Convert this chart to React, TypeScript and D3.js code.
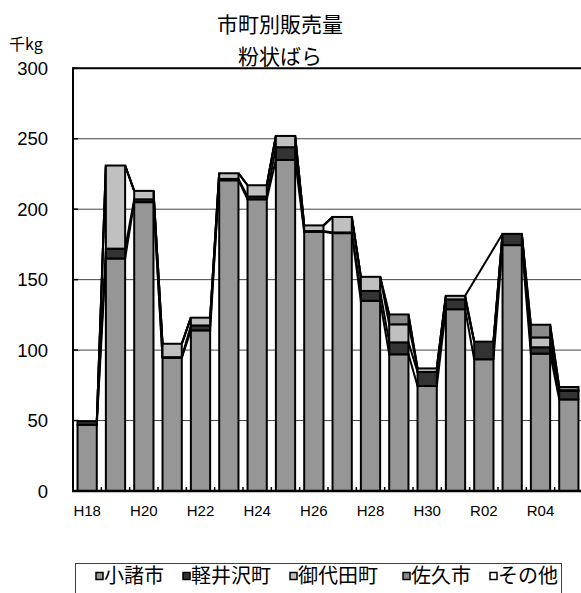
import React from "react";
import * as d3 from "d3";

const categories = ["H18","H19","H20","H21","H22","H23","H24","H25","H26","H27","H28","H29","H30","R01","R02","R03","R04","R05"];
const tickLabels = ["H18","H20","H22","H24","H26","H28","H30","R02","R04"];
const seriesNames = ["小諸市","軽井沢町","御代田町","佐久市","その他"];
const seriesColors = ["#969696","#333333","#c0c0c0","#8a8a8a","#ffffff"];

const komoro:   (number|null)[] = [47,165,205,94.5,114,220.5,207,235,184,183,135,97,74.5,129,93.5,174.5,97.5,65];
const karuizawa:(number|null)[] = [2.5,7,2,0.5,3.5,1,2,9,0.5,0.5,7,8.5,10,7,12.5,8,4.5,6];
const miyota:   (number|null)[] = [0,59,6,9.5,5.5,4,8,8,4,11,10,12.8,2.5,2.5,null,0,7,0.5];
const saku:     (number|null)[] = [0,0,0,0,0,0,0,0,0,0,0,7,0,0,0,0,9,2.3];
const other:    (number|null)[] = [0,0,0,0,0,0,0,0,0,0,0,0,0,0,0,0,0,0];

const yTicks = [0,50,100,150,200,250,300];

const W = 581, H = 593;
const plotLeft = 73, plotRight = 583, plotTop = 68.3, plotBottom = 491;

export default function App() {
  const series = [komoro, karuizawa, miyota, saku, other];
  const x = d3.scaleBand<string>().domain(categories).range([plotLeft, plotRight]).paddingInner(0.32).paddingOuter(0.16);
  const y = d3.scaleLinear().domain([0, 300]).range([plotBottom, plotTop]);
  const bw = x.bandwidth();
  const step = x.step();

  const stacks = categories.map((_, i) => {
    let acc = 0;
    return series.map((s) => {
      const v = s[i];
      const y0 = acc;
      acc += v ?? 0;
      return { y0, y1: acc, v };
    });
  });

  const seriesLines: string[] = [];
  series.forEach((s, si) => {
    let prev = -1;
    categories.forEach((c, i) => {
      if (s[i] === null) return;
      if (prev >= 0) {
        const p = d3.path();
        p.moveTo((x(categories[prev]) as number) + bw, y(stacks[prev][si].y1));
        p.lineTo(x(c) as number, y(stacks[i][si].y1));
        seriesLines.push(p.toString());
      }
      prev = i;
    });
  });

  const latin = "'Liberation Sans', Arial, sans-serif";
  const jp = "'Noto Sans CJK JP', sans-serif";

  const legendX = [96, 183, 290, 403, 490];

  return (
    <svg width={W} height={H} style={{ position: "absolute", left: 0, top: 0, background: "#fff" }}>
      <rect x={0} y={0} width={W} height={H} fill="#fff" />
      <text x={280} y={32} textAnchor="middle" fontFamily={jp} fontSize={21}>市町別販売量</text>
      <text x={280} y={64} textAnchor="middle" fontFamily={jp} fontSize={21}>粉状ばら</text>
      <text x={9} y={50} fontFamily={jp} fontSize={16}>千kg</text>

      {yTicks.filter((t) => t > 0 && t < 300).map((t) => (
        <line key={t} x1={plotLeft} x2={plotRight} y1={y(t)} y2={y(t)} stroke="#444" strokeWidth={1} />
      ))}
      <line x1={plotLeft} x2={plotRight} y1={y(300)} y2={y(300)} stroke="#000" strokeWidth={2} />

      {seriesLines.map((d, i) => (
        <path key={i} d={d} stroke="#000" strokeWidth={2} fill="none" />
      ))}

      {categories.map((c, i) => (
        <g key={c}>
          {stacks[i].map((seg, si) => {
            if (!seg.v) return null;
            return (
              <rect key={si} x={x(c)} y={y(seg.y1)} width={bw} height={y(seg.y0) - y(seg.y1)}
                fill={seriesColors[si]} stroke="#000" strokeWidth={2} />
            );
          })}
        </g>
      ))}

      <line x1={plotLeft} x2={plotLeft} y1={plotTop - 1} y2={plotBottom + 1} stroke="#000" strokeWidth={2} />
      <line x1={plotLeft - 1} x2={plotRight} y1={plotBottom} y2={plotBottom} stroke="#000" strokeWidth={2.5} />
      {yTicks.map((t) => (
        <g key={t}>
          <line x1={plotLeft} x2={plotLeft + 5} y1={y(t)} y2={y(t)} stroke="#000" strokeWidth={1.5} />
          <text x={48} y={y(t) + 6.5} textAnchor="end" fontFamily={latin} fontSize={18.5}>{t}</text>
        </g>
      ))}
      {categories.map((c, i) => i > 0 ? (
        <line key={c} x1={plotLeft + step * i} x2={plotLeft + step * i} y1={plotBottom} y2={plotBottom - 4} stroke="#000" strokeWidth={1.5} />
      ) : null)}
      {tickLabels.map((t) => (
        <text key={t} x={(x(t) as number) + bw / 2} y={516} textAnchor="middle" fontFamily={latin} fontSize={15}>{t}</text>
      ))}

      <rect x={75.5} y={563.5} width={486} height={40} fill="none" stroke="#404040" strokeWidth={1} />
      {seriesNames.map((n, i) => (
        <g key={n}>
          <rect x={legendX[i]} y={572.5} width={7} height={7} fill={seriesColors[i]} stroke="#000" strokeWidth={1.5} />
          <text x={legendX[i] + 8} y={583} fontFamily={jp} fontSize={20}>{n}</text>
        </g>
      ))}
    </svg>
  );
}
